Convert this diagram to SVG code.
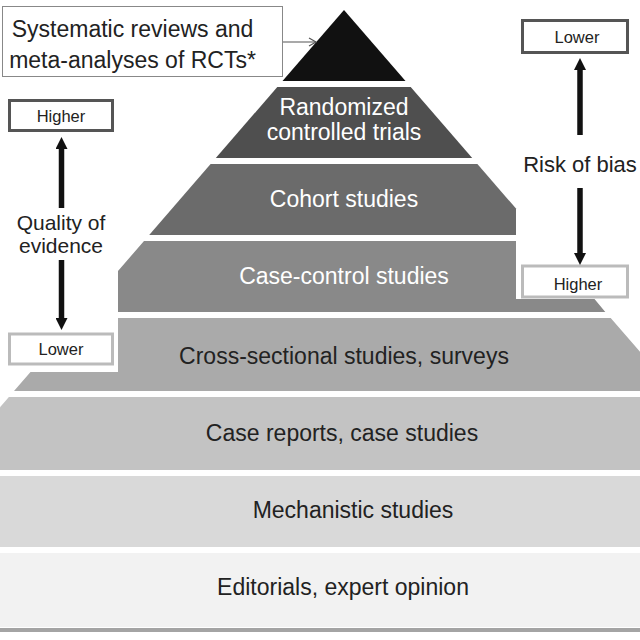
<svg xmlns="http://www.w3.org/2000/svg" width="640" height="640" viewBox="0 0 640 640">
<defs>
<style>
text{font-family:"Liberation Sans",Arial,sans-serif;text-anchor:middle}
.lbl{font-size:23px}
.wt{fill:#ffffff}
.dk{fill:#222222}
.sm{font-size:16.5px;fill:#222222}
.side{font-size:21px;fill:#222222}
.shaft{stroke:#111111;stroke-width:5.5;fill:none}
</style>
<marker id="ah" markerWidth="13" markerHeight="12" refX="0" refY="6" orient="auto" markerUnits="userSpaceOnUse" viewBox="0 0 13 12">
<path d="M0,0 L12,6 L0,12 Z" fill="#111111"/>
</marker>
<marker id="oh" markerWidth="10" markerHeight="10" refX="8" refY="5" orient="auto" markerUnits="userSpaceOnUse" viewBox="0 0 10 10">
<path d="M1,1 L8,5 L1,9" fill="none" stroke="#555555" stroke-width="1.2"/>
</marker>
</defs>
<rect width="640" height="640" fill="#ffffff"/>
<g id="layer-sr">
<polygon points="344,10 405.5,81 282.5,81" fill="#111111"/>
</g>
<g id="layer-rct">
<polygon points="277.3,87 410.7,87 472.2,158 215.8,158" fill="#4f4f4f"/>
<text class="lbl wt" x="344" y="115">Randomized</text>
<text class="lbl wt" x="344" y="140">controlled trials</text>
</g>
<g id="layer-cohort">
<polygon points="210.6,164 477.4,164 516,208.6 516,235 149.2,235" fill="#6b6b6b"/>
<text class="lbl wt" x="344" y="207">Cohort studies</text>
</g>
<g id="layer-cc">
<polygon points="144,241 516,241 516,299 594.5,299 605.3,312 118,312 118,271" fill="#898989"/>
<text class="lbl wt" x="344" y="284">Case-control studies</text>
</g>
<g id="layer-cs">
<polygon points="118,318 610.7,318 640,351.8 640,391 14,391 30.5,372 118,372" fill="#aaaaaa"/>
<text class="lbl dk" x="344" y="364">Cross-sectional studies, surveys</text>
</g>
<g id="layer-cr">
<polygon points="8.9,397 640,397 640,470 0,470 0,407.2" fill="#c3c3c3"/>
<text class="lbl dk" x="342" y="441">Case reports, case studies</text>
</g>
<g id="layer-mech">
<rect x="0" y="476" width="640" height="71" fill="#d9d9d9"/>
<text class="lbl dk" x="353" y="518">Mechanistic studies</text>
</g>
<g id="layer-ed">
<rect x="0" y="553" width="640" height="74" fill="#f2f2f2"/>
<rect x="0" y="628" width="640" height="4" fill="#a4a4a4"/>
<text class="lbl dk" x="343" y="595">Editorials, expert opinion</text>
</g>
<g id="box-sr">
<rect x="2.5" y="6.5" width="280" height="70" fill="#ffffff" stroke="#888888" stroke-width="1"/>
<text class="lbl dk" x="132.5" y="37">Systematic reviews and</text>
<text class="lbl dk" x="132.5" y="68">meta-analyses of RCTs*</text>
</g>
<g id="box-left-higher">
<rect x="9.5" y="100.5" width="103" height="30" fill="#ffffff" stroke="#555555" stroke-width="3"/>
<text class="sm" x="61" y="122">Higher</text>
</g>
<g id="label-quality">
<text class="side" x="61" y="230">Quality of</text>
<text class="side" x="61" y="253">evidence</text>
</g>
<g id="box-left-lower">
<rect x="9.5" y="334" width="103" height="30" fill="#ffffff" stroke="#bbbbbb" stroke-width="3"/>
<text class="sm" x="61" y="355">Lower</text>
</g>
<g id="box-right-lower">
<rect x="522.5" y="20.5" width="105" height="32" fill="#ffffff" stroke="#555555" stroke-width="3"/>
<text class="sm" x="577" y="43">Lower</text>
</g>
<g id="label-risk">
<text class="side" x="580" y="172" style="font-size:22px">Risk of bias</text>
</g>
<g id="box-right-higher">
<rect x="522.5" y="266" width="105" height="31" fill="#ffffff" stroke="#bbbbbb" stroke-width="3"/>
<text class="sm" x="578" y="290">Higher</text>
</g>
<g id="connectors">
<line x1="283" y1="42" x2="316" y2="42" stroke="#555555" stroke-width="1.2" marker-end="url(#oh)"/>
<line class="shaft" x1="61.5" y1="208" x2="61.5" y2="149" marker-end="url(#ah)"/>
<line class="shaft" x1="61.5" y1="260" x2="61.5" y2="318" marker-end="url(#ah)"/>
<line class="shaft" x1="580" y1="135" x2="580" y2="70" marker-end="url(#ah)"/>
<line class="shaft" x1="580" y1="188" x2="580" y2="253" marker-end="url(#ah)"/>
</g>
</svg>
